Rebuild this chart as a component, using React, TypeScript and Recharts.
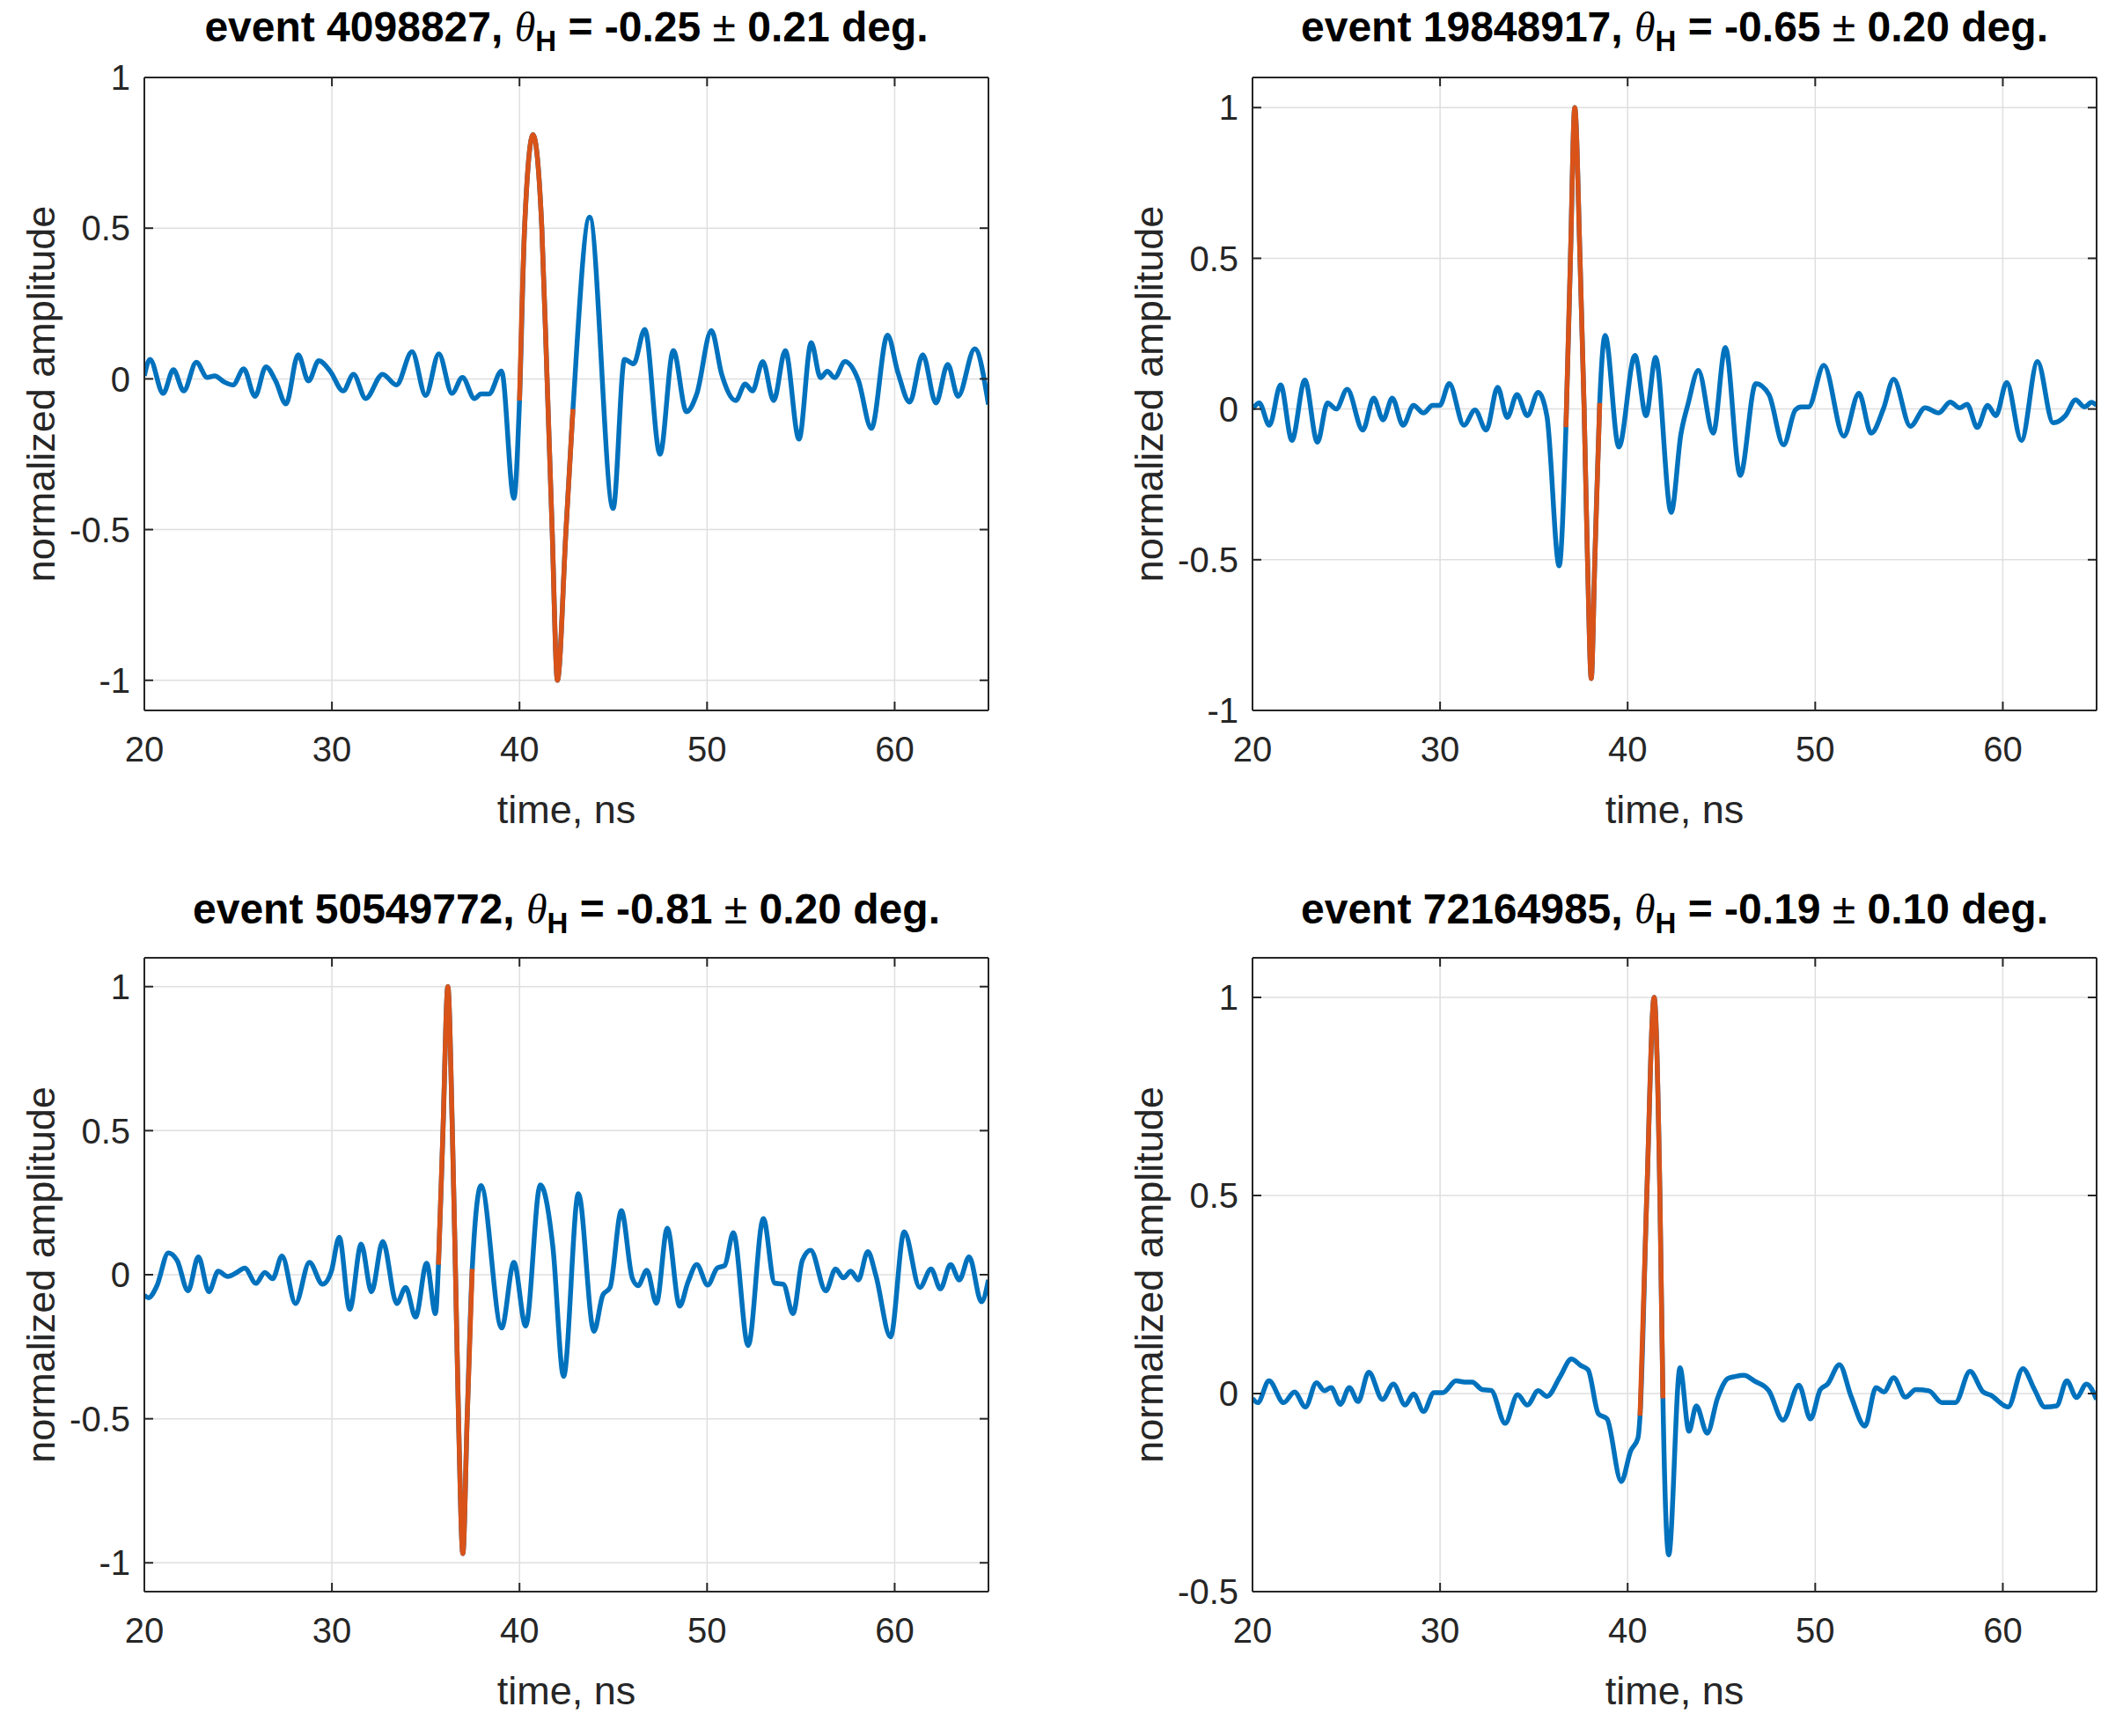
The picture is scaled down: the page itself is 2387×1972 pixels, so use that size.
import { LineChart, Line, XAxis, YAxis, CartesianGrid } from 'recharts';

// time axis, ns
const TIME_DOMAIN = [20, 65];
const TIME_TICKS = [20, 30, 40, 50, 60];

const EVENT_IDS = ['4098827', '19848917', '50549772', '72164985'];
const THETA_H = ['-0.25', '-0.65', '-0.81', '-0.19'];
const THETA_ERR = ['0.21', '0.20', '0.20', '0.10'];

const Y_DOMAINS = [[-1.1, 1], [-1, 1.1], [-1.1, 1.1], [-0.5, 1.1]];
const Y_TICKS = [[-1, -0.5, 0, 0.5, 1], [-1, -0.5, 0, 0.5, 1], [-1, -0.5, 0, 0.5, 1], [-0.5, 0, 0.5, 1]];

// [time, normalized amplitude]
const P1_TRACE = [
  [20.0, 0.01], [20.3, 0.065], [21.0, -0.048], [21.55, 0.03], [22.1, -0.04], [22.77, 0.055], [23.35, 0.005],
  [23.75, 0.01], [24.25, -0.01], [24.73, -0.02], [25.3, 0.033], [25.9, -0.058], [26.48, 0.04], [27.0, -0.007],
  [27.55, -0.083], [28.2, 0.08], [28.75, -0.007], [29.3, 0.06], [29.9, 0.026], [30.6, -0.04], [31.15, 0.015],
  [31.8, -0.065], [32.7, 0.015], [33.44, -0.02], [34.27, 0.09], [35.0, -0.055], [35.7, 0.083], [36.4, -0.048],
  [36.96, 0.005], [37.6, -0.065], [37.95, -0.05], [38.37, -0.05], [39.04, 0.026], [39.7, -0.396], [40.0, -0.072],
  [40.27, 0.5], [40.72, 0.81], [41.19, 0.5], [41.47, 0.0], [41.74, -0.5], [42.02, -1.0], [42.48, -0.5],
  [42.85, -0.1], [43.74, 0.536], [44.99, -0.43], [45.6, 0.065], [46.08, 0.05], [46.68, 0.164], [47.49, -0.25],
  [48.2, 0.094], [48.9, -0.109], [49.45, -0.05], [50.23, 0.16], [50.78, 0.015], [51.53, -0.072], [52.03, -0.017],
  [52.42, -0.04], [52.97, 0.057], [53.55, -0.072], [54.17, 0.094], [54.9, -0.2], [55.55, 0.12], [56.05, 0.004],
  [56.41, 0.025], [56.8, 0.004], [57.35, 0.057], [58.06, -0.004], [58.76, -0.164], [59.62, 0.145], [60.17, 0.022],
  [60.8, -0.077], [61.5, 0.08], [62.2, -0.08], [62.83, 0.048], [63.38, -0.058], [64.27, 0.1], [65.0, -0.085],
];
const P2_TRACE = [
  [20.0, 0.0], [20.36, 0.02], [20.9, -0.054], [21.5, 0.08], [22.1, -0.104], [22.79, 0.096], [23.46, -0.11],
  [24.0, 0.02], [24.46, 0.0], [25.05, 0.065], [25.88, -0.07], [26.46, 0.036], [26.96, -0.036], [27.45, 0.036],
  [28.03, -0.054], [28.58, 0.012], [29.12, -0.013], [29.6, 0.012], [29.98, 0.012], [30.49, 0.084], [31.27, -0.054],
  [31.86, -0.003], [32.46, -0.07], [33.07, 0.072], [33.58, -0.028], [34.1, 0.048], [34.65, -0.022], [35.23, 0.055],
  [35.7, -0.025], [36.35, -0.52], [36.71, -0.06], [36.95, 0.5], [37.18, 1.0], [37.46, 0.5], [37.68, 0.0],
  [37.86, -0.5], [38.06, -0.894], [38.25, -0.5], [38.51, 0.02], [38.8, 0.244], [39.53, -0.126], [40.39, 0.178],
  [40.98, -0.022], [41.49, 0.171], [42.32, -0.343], [42.84, -0.083], [43.23, 0.019], [43.77, 0.128], [44.56, -0.08],
  [45.21, 0.204], [46.0, -0.22], [46.83, 0.084], [47.53, 0.048], [48.31, -0.119], [48.94, -0.003], [49.25, 0.007],
  [49.64, 0.007], [50.46, 0.145], [51.52, -0.09], [52.33, 0.052], [52.98, -0.08], [53.63, 0.0], [54.18, 0.099],
  [55.07, -0.057], [55.86, 0.004], [56.58, -0.013], [57.2, 0.023], [57.7, 0.004], [58.09, 0.016], [58.64, -0.061],
  [59.19, 0.012], [59.63, -0.022], [60.21, 0.088], [60.99, -0.104], [61.85, 0.157], [62.68, -0.046], [63.34, -0.022],
  [63.88, 0.03], [64.35, 0.007], [64.74, 0.022], [65.0, 0.012],
];
const P3_TRACE = [
  [20.0, -0.071], [20.22, -0.08], [20.66, -0.04], [21.28, 0.076], [21.75, 0.049], [22.33, -0.056], [22.88, 0.062],
  [23.44, -0.059], [23.94, 0.012], [24.44, -0.006], [24.96, 0.009], [25.35, 0.023], [25.95, -0.03], [26.42, 0.008],
  [26.84, -0.014], [27.34, 0.065], [28.06, -0.1], [28.8, 0.043], [29.5, -0.033], [29.97, 0.012], [30.39, 0.13],
  [30.95, -0.12], [31.56, 0.106], [32.11, -0.059], [32.71, 0.115], [33.46, -0.1], [33.93, -0.044], [34.46, -0.147],
  [35.05, 0.04], [35.52, -0.135], [35.68, 0.035], [35.92, 0.5], [36.18, 1.0], [36.42, 0.5], [36.59, 0.0],
  [36.75, -0.5], [36.98, -0.968], [37.21, -0.5], [37.48, 0.02], [37.95, 0.309], [39.05, -0.185], [39.7, 0.043],
  [40.33, -0.178], [41.11, 0.312], [41.78, 0.096], [42.35, -0.353], [43.14, 0.281], [43.97, -0.196], [44.44, -0.071],
  [44.83, -0.044], [45.43, 0.222], [46.01, -0.011], [46.32, -0.038], [46.79, 0.015], [47.3, -0.099], [47.88, 0.161],
  [48.54, -0.109], [48.98, -0.026], [49.45, 0.035], [50.03, -0.036], [50.54, 0.023], [50.94, 0.032], [51.4, 0.146],
  [52.19, -0.246], [53.0, 0.195], [53.6, -0.029], [54.07, -0.033], [54.58, -0.135], [55.08, 0.05], [55.52, 0.085],
  [56.33, -0.056], [56.85, 0.02], [57.27, -0.011], [57.66, 0.012], [58.06, -0.018], [58.57, 0.08], [59.0, -0.003],
  [59.78, -0.216], [60.51, 0.149], [61.34, -0.044], [61.94, 0.02], [62.44, -0.049], [62.98, 0.035], [63.45, -0.018],
  [63.97, 0.062], [64.63, -0.094], [65.0, -0.018],
];
const P4_TRACE = [
  [20.0, -0.012], [20.28, -0.023], [20.88, 0.032], [21.66, -0.023], [22.24, 0.004], [22.82, -0.034], [23.41, 0.027],
  [23.83, 0.007], [24.19, 0.015], [24.69, -0.027], [25.16, 0.015], [25.63, -0.02], [26.2, 0.054], [26.93, -0.015],
  [27.51, 0.024], [28.14, -0.029], [28.58, -0.001], [29.12, -0.045], [29.67, 0.002], [30.14, 0.002], [30.85, 0.032],
  [31.32, 0.029], [31.71, 0.029], [32.25, 0.01], [32.72, 0.008], [33.47, -0.075], [34.13, -0.003], [34.65, -0.029],
  [35.23, 0.007], [35.7, -0.007], [36.4, 0.043], [37.0, 0.087], [37.5, 0.071], [37.89, 0.06], [38.44, -0.051],
  [38.9, -0.064], [39.66, -0.222], [40.16, -0.145], [40.55, -0.112], [40.66, -0.056], [41.02, 0.5], [41.41, 1.0],
  [41.72, 0.5], [41.88, -0.012], [42.19, -0.407], [42.79, 0.065], [43.27, -0.095], [43.66, -0.031], [44.24, -0.1],
  [44.79, -0.012], [45.34, 0.038], [45.73, 0.043], [46.2, 0.046], [46.75, 0.032], [47.53, 0.007], [48.28, -0.067],
  [49.13, 0.021], [49.75, -0.064], [50.27, 0.01], [50.66, 0.024], [51.29, 0.073], [51.91, -0.007], [52.65, -0.082],
  [53.24, 0.015], [53.66, 0.004], [54.18, 0.04], [54.81, -0.009], [55.36, 0.01], [56.06, 0.007], [56.76, -0.023],
  [57.47, -0.023], [58.25, 0.056], [58.95, 0.004], [59.35, -0.004], [60.28, -0.034], [61.07, 0.063], [61.69, 0.01],
  [62.24, -0.034], [62.87, -0.031], [63.41, 0.032], [63.93, -0.01], [64.46, 0.024], [65.0, -0.015],
];

// time window of the fitted pulse (drawn in orange)
const FIT_WINDOWS = [[40.0, 42.85], [36.71, 38.51], [35.68, 37.48], [40.66, 41.88]];

const TRACES = [P1_TRACE, P2_TRACE, P3_TRACE, P4_TRACE];

const BLUE = '#0072BD';
const ORANGE = '#D95319';
const AXIS = '#262626';
const GRID = '#dfdfdf';
const FONT = '"Liberation Sans", Helvetica, Arial, sans-serif';

const PANELS = [
  { left: 0, top: 0, width: 1193, height: 986, margin: { top: 88, right: 70, left: 34, bottom: 29 }, tx: 643.5, ty: 47 },
  { left: 1193, top: 0, width: 1194, height: 986, margin: { top: 88, right: 5, left: 100, bottom: 29 }, tx: 1902.5, ty: 47 },
  { left: 0, top: 986, width: 1193, height: 986, margin: { top: 102, right: 70, left: 34, bottom: 14 }, tx: 643.5, ty: 1049 },
  { left: 1193, top: 986, width: 1194, height: 986, margin: { top: 102, right: 5, left: 100, bottom: 14 }, tx: 1902.5, ty: 1049 },
];

const blank = () => '';

function Panel({ idx }: { idx: number }) {
  const p = PANELS[idx];
  const data = TRACES[idx].map(([t, v]) => ({ t, v }));
  const [f0, f1] = FIT_WINDOWS[idx];
  const fit = data.filter((d) => d.t >= f0 && d.t <= f1);
  const yDomain = Y_DOMAINS[idx];
  const yTicks = Y_TICKS[idx];
  const line = { stroke: AXIS, strokeWidth: 2 };

  return (
    <div style={{ position: 'absolute', left: p.left, top: p.top }}>
      <LineChart width={p.width} height={p.height} data={data} margin={p.margin}>
        <CartesianGrid stroke={GRID} strokeWidth={1.5} />
        <XAxis
          dataKey="t" type="number" domain={TIME_DOMAIN} ticks={TIME_TICKS} allowDataOverflow
          height={150} tickSize={0} tickMargin={30} tickLine={false} axisLine={line}
          tick={{ fill: AXIS, fontSize: 40, fontFamily: FONT }}
          label={{ value: 'time, ns', position: 'insideBottom', offset: 22, fill: AXIS, fontSize: 45, fontFamily: FONT }}
        />
        <XAxis
          xAxisId="bm" orientation="bottom" mirror dataKey="t" type="number" domain={TIME_DOMAIN} ticks={TIME_TICKS}
          allowDataOverflow height={1} tickSize={10} axisLine={false} tickLine={line} tickFormatter={blank}
        />
        <XAxis
          xAxisId="tm" orientation="top" mirror dataKey="t" type="number" domain={TIME_DOMAIN} ticks={TIME_TICKS}
          allowDataOverflow height={1} tickSize={10} axisLine={line} tickLine={line} tickFormatter={blank}
        />
        <YAxis
          type="number" domain={yDomain} ticks={yTicks} allowDataOverflow
          width={130} tickSize={0} tickMargin={16} tickLine={false} axisLine={line}
          tick={{ fill: AXIS, fontSize: 40, fontFamily: FONT }}
          label={{
            value: 'normalized amplitude', angle: -90, position: 'insideLeft', offset: 12,
            fill: AXIS, fontSize: 45, fontFamily: FONT, style: { textAnchor: 'middle' },
          }}
        />
        <YAxis
          yAxisId="lm" orientation="left" mirror type="number" domain={yDomain} ticks={yTicks} allowDataOverflow
          width={1} tickSize={10} axisLine={false} tickLine={line} tickFormatter={blank}
        />
        <YAxis
          yAxisId="rm" orientation="right" mirror type="number" domain={yDomain} ticks={yTicks} allowDataOverflow
          width={1} tickSize={10} axisLine={line} tickLine={line} tickFormatter={blank}
        />
        <Line
          dataKey="v" type="monotone" stroke={BLUE} strokeWidth={5.5} strokeLinejoin="round"
          dot={false} activeDot={false} isAnimationActive={false}
        />
        <Line
          data={fit} dataKey="v" type="monotone" stroke={ORANGE} strokeWidth={5.5} strokeLinejoin="round"
          dot={false} activeDot={false} isAnimationActive={false}
        />
      </LineChart>
    </div>
  );
}

export default function App() {
  return (
    <div style={{ position: 'absolute', left: 0, top: 0, width: 2387, height: 1972, background: '#fff' }}>
      {PANELS.map((_, i) => <Panel key={i} idx={i} />)}
      <svg width={2387} height={1972} style={{ position: 'absolute', left: 0, top: 0, pointerEvents: 'none' }}>
        {PANELS.map((p, i) => (
          <text
            key={i} x={p.tx} y={p.ty} textAnchor="middle" fill="#000" fontSize={48} fontWeight="bold"
            fontFamily={FONT} style={{ whiteSpace: 'pre' }}
          >
            <tspan>{`event ${EVENT_IDS[i]}, `}</tspan>
            <tspan fontStyle="italic" fontWeight="normal" fontFamily='"Liberation Serif", serif'>θ</tspan>
            <tspan fontSize={33} dy={11}>H</tspan>
            <tspan dy={-11}>{` = ${THETA_H[i]} `}</tspan>
            <tspan fontWeight="normal">±</tspan>
            <tspan>{` ${THETA_ERR[i]} deg.`}</tspan>
          </text>
        ))}
      </svg>
    </div>
  );
}
